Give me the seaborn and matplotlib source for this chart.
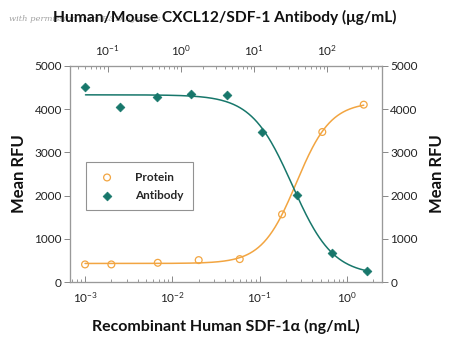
import numpy as np
import pandas as pd
import matplotlib
matplotlib.use("Agg")
import matplotlib.pyplot as plt
import seaborn as sns
from matplotlib.ticker import LogLocator, NullFormatter

# ---------------- data ----------------
protein_conc = [0.001, 0.002, 0.0068, 0.020, 0.059, 0.18, 0.52, 1.55]      # ng/mL
protein_rfu = [409, 409, 447, 509, 532, 1567, 3472, 4104]
antibody_conc = [0.050, 0.15, 0.47, 1.4, 4.3, 12.9, 39, 117, 355]         # ug/mL
antibody_rfu = [4507, 4051, 4282, 4359, 4329, 3466, 2021, 664, 261]
series_names = ["Protein", "Antibody"]
title_text = "Human/Mouse CXCL12/SDF-1 Antibody (\u03bcg/mL)"
xlabel_text = "Recombinant Human SDF-1\u03b1 (ng/mL)"
ylabel_text = "Mean RFU"
watermark_text = "with permission from R&D Systems"

ORANGE = "#F2A541"
TEAL = "#17776B"


def fit_4pl(x, y, hill_sign):
    lx = np.log10(np.asarray(x, float))
    y = np.asarray(y, float)
    best = None
    for c in np.linspace(lx.min(), lx.max(), 241):
        for h in np.linspace(0.3, 3.0, 136):
            hh = h * hill_sign
            s = 1.0 / (1.0 + 10 ** ((c - lx) * hh))
            A = np.column_stack([np.ones_like(s), s])
            coef, *_ = np.linalg.lstsq(A, y, rcond=None)
            r = np.sum((A @ coef - y) ** 2)
            if best is None or r < best[0]:
                best = (r, c, hh, coef)
    _, c, hh, coef = best

    def f(xx):
        s = 1.0 / (1.0 + 10 ** ((c - np.log10(xx)) * hh))
        return coef[0] + coef[1] * s
    return f


sns.set_theme(style="white")
plt.rcParams["font.family"] = ["Lato", "DejaVu Sans"]
plt.rcParams["mathtext.default"] = "regular"
plt.rcParams["mathtext.fontset"] = "custom"
plt.rcParams["mathtext.rm"] = "Lato"

fig = plt.figure(figsize=(4.5, 3.47), dpi=100)
ax = fig.add_axes([0.156, 0.187, 0.693, 0.623])
ax_top = ax.twiny()
ax_r = ax.twinx()

df_p = pd.DataFrame({"conc": protein_conc, "rfu": protein_rfu})
df_a = pd.DataFrame({"conc": antibody_conc, "rfu": antibody_rfu})

# protein on bottom axis
fp = fit_4pl(protein_conc, protein_rfu, +1)
xp = np.logspace(np.log10(min(protein_conc)), np.log10(max(protein_conc)), 300)
ax.plot(xp, fp(xp), color=ORANGE, lw=1.1, zorder=2)
sns.scatterplot(data=df_p, x="conc", y="rfu", ax=ax, marker="o", s=24,
                facecolor="none", edgecolor=ORANGE, linewidth=0.9, zorder=3,
                label=series_names[0])

# antibody on top axis
fa = fit_4pl(antibody_conc, antibody_rfu, -1)
xa = np.logspace(np.log10(min(antibody_conc)), np.log10(max(antibody_conc)), 300)
ax_top.plot(xa, fa(xa), color=TEAL, lw=1.1, zorder=2)
sns.scatterplot(data=df_a, x="conc", y="rfu", ax=ax_top, marker="D", s=20,
                color=TEAL, edgecolor=TEAL, linewidth=0.5, zorder=3,
                label=series_names[1])

for a in (ax, ax_top):
    a.set_xscale("log")
ax.set_xlim(10 ** -3.17, 10 ** 0.40)
ax_top.set_xlim(10 ** -1.51, 10 ** 2.75)
ax.set_ylim(0, 5000)
ax_top.set_ylim(0, 5000)
ax_r.set_ylim(0, 5000)

ticks = [0, 1000, 2000, 3000, 4000, 5000]
ax.set_yticks(ticks)
ax_r.set_yticks(ticks)

for a in (ax, ax_top):
    a.xaxis.set_major_locator(LogLocator(base=10))
    a.xaxis.set_minor_locator(LogLocator(base=10, subs=np.arange(2, 10)))
    a.xaxis.set_minor_formatter(NullFormatter())

ax.tick_params(axis="x", which="major", direction="in", length=4, width=0.7,
               color="#888888", labelsize=8.5, pad=6, labelcolor="#222222")
ax.tick_params(axis="x", which="minor", direction="in", length=2, width=0.6,
               color="#888888")
ax_top.tick_params(axis="x", which="major", direction="in", length=4, width=0.7,
                   color="#888888", labelsize=8.5, pad=6, labelcolor="#222222")
ax_top.tick_params(axis="x", which="minor", direction="in", length=2, width=0.6,
                   color="#888888")
ax.tick_params(axis="y", direction="out", length=4, width=0.7, color="#888888",
               labelsize=8.5, left=True, pad=2, labelcolor="#222222")
ax_r.tick_params(axis="y", direction="out", length=4, width=0.7, color="#888888",
                 labelsize=8.5, right=True, pad=2, labelcolor="#222222")

for a in (ax, ax_top, ax_r):
    for sp in a.spines.values():
        sp.set_color("#999999")
        sp.set_linewidth(0.8)

ax.set_xlabel(xlabel_text, fontsize=11.5, fontweight="bold", labelpad=10,
              color="#111111")
ax.set_ylabel(ylabel_text, fontsize=12, fontweight="bold", labelpad=5,
              color="#111111")
ax_r.set_ylabel(ylabel_text, fontsize=12, fontweight="bold", labelpad=8,
                color="#111111")
ax_top.set_xlabel("")
ax_top.set_ylabel("")

# legend combining both
if ax.get_legend():
    ax.get_legend().remove()
if ax_top.get_legend():
    ax_top.get_legend().remove()
h1, l1 = ax.get_legend_handles_labels()
h2, l2 = ax_top.get_legend_handles_labels()
leg = ax_top.legend(h1 + h2, l1 + l2, loc="upper left",
                    bbox_to_anchor=(0.05, 0.555), frameon=True, fancybox=False,
                    edgecolor="#777777", handletextpad=1.4,
                    borderpad=0.8, labelspacing=0.6, borderaxespad=0,
                    prop={"weight": "bold", "size": 8.5})
leg.get_frame().set_linewidth(0.8)

fig.text(0.5, 0.95, title_text, ha="center", va="center", fontsize=11.2,
         fontweight="bold", color="#111111", zorder=3)
fig.text(0.02, 0.945, watermark_text, ha="left", va="center", fontsize=6,
         style="italic", color="#666666", alpha=0.6, zorder=0,
         family=["DejaVu Serif"])

fig.savefig("out.png", dpi=100)
